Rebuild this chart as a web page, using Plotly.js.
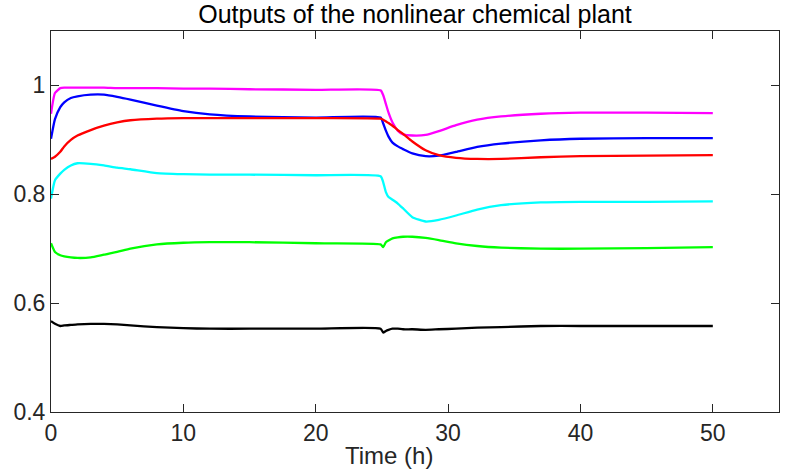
<!DOCTYPE html>
<html>
<head>
<meta charset="utf-8">
<script src="https://cdn.plot.ly/plotly-3.0.1.min.js"></script>
<style>html,body{margin:0;padding:0;background:#fff;}#chart{width:789px;height:469px;}</style>
</head>
<body>
<div id="chart"></div>
<script>
const time = [0, 0.3, 0.7, 1, 1.5, 2, 3, 4, 5, 6, 8, 10, 12, 15, 20, 24.9, 25.1, 25.3, 25.5, 25.8, 26.2, 26.6, 27.3, 28.3, 29.3, 30.6, 32.2, 34, 37, 40, 45, 50];
const outMagenta = [0.948, 0.986, 0.995, 0.996, 0.996, 0.996, 0.996, 0.996, 0.995, 0.995, 0.995, 0.994, 0.994, 0.993, 0.992, 0.991, 0.982, 0.966, 0.950, 0.932, 0.917, 0.910, 0.908, 0.909, 0.916, 0.927, 0.937, 0.943, 0.948, 0.950, 0.950, 0.949];
const outBlue = [0.902, 0.938, 0.960, 0.969, 0.977, 0.980, 0.983, 0.983, 0.979, 0.974, 0.963, 0.953, 0.947, 0.943, 0.941, 0.941, 0.930, 0.917, 0.906, 0.895, 0.888, 0.883, 0.875, 0.870, 0.871, 0.878, 0.887, 0.893, 0.899, 0.902, 0.903, 0.903];
const outRed = [0.865, 0.869, 0.878, 0.888, 0.900, 0.908, 0.918, 0.926, 0.932, 0.936, 0.939, 0.940, 0.940, 0.940, 0.940, 0.939, 0.937, 0.934, 0.931, 0.926, 0.918, 0.911, 0.897, 0.881, 0.872, 0.867, 0.865, 0.865, 0.868, 0.870, 0.871, 0.872];
const outCyan = [0.792, 0.826, 0.838, 0.845, 0.853, 0.857, 0.856, 0.853, 0.849, 0.846, 0.839, 0.837, 0.836, 0.836, 0.835, 0.833, 0.822, 0.804, 0.795, 0.790, 0.783, 0.774, 0.758, 0.750, 0.753, 0.761, 0.772, 0.780, 0.785, 0.786, 0.786, 0.787];
const outGreen = [0.710, 0.694, 0.688, 0.686, 0.684, 0.683, 0.684, 0.689, 0.694, 0.700, 0.708, 0.711, 0.712, 0.712, 0.710, 0.708, 0.703, 0.712, 0.715, 0.719, 0.721, 0.722, 0.722, 0.720, 0.716, 0.710, 0.705, 0.702, 0.700, 0.700, 0.701, 0.703];
const outBlack = [0.567, 0.562, 0.558, 0.559, 0.560, 0.561, 0.562, 0.562, 0.561, 0.559, 0.556, 0.554, 0.553, 0.553, 0.553, 0.553, 0.546, 0.549, 0.551, 0.553, 0.553, 0.552, 0.552, 0.551, 0.552, 0.553, 0.555, 0.556, 0.558, 0.558, 0.558, 0.558];

const seriesList = [
  {y: outMagenta, color: '#ff00ff'},
  {y: outBlue, color: '#0000ff'},
  {y: outRed, color: '#ff0000'},
  {y: outCyan, color: '#00ffff'},
  {y: outGreen, color: '#00ff00'},
  {y: outBlack, color: '#000000'}
];
const xTicks = [0, 10, 20, 30, 40, 50];
const yTickVals = [0.4, 0.6, 0.8, 1.0];
const yTickText = ['0.4', '0.6', '0.8', '1'];
const xLabel = 'Time (h)';
const chartTitle = 'Outputs of the nonlinear chemical plant';

const traces = seriesList.map(s => ({
  x: time, y: s.y, type: 'scatter', mode: 'lines',
  line: {color: s.color, width: 2.3, shape: 'spline', smoothing: 0.5},
  showlegend: false, hoverinfo: 'skip'
}));

const fontFam = 'Liberation Sans, Arial, sans-serif';
const axisCommon = {
  showline: true, linecolor: '#262626', linewidth: 1, mirror: 'ticks',
  ticks: 'inside', ticklen: 8, tickcolor: '#262626', tickwidth: 1,
  showgrid: false, zeroline: false,
  tickfont: {family: fontFam, size: 23, color: '#262626'}
};

const layout = {
  width: 789, height: 469,
  margin: {l: 51, r: 10, t: 31, b: 57},
  paper_bgcolor: '#ffffff', plot_bgcolor: '#ffffff',
  title: {text: chartTitle, x: 0.5, xref: 'paper', y: 0.97, yref: 'container', yanchor: 'middle',
          font: {family: fontFam, size: 25, color: '#000000'}},
  xaxis: Object.assign({}, axisCommon, {
    range: [0, 55], tickvals: xTicks, ticktext: xTicks.map(String)
  }),
  yaxis: Object.assign({}, axisCommon, {
    range: [0.4, 1.1], tickvals: yTickVals, ticktext: yTickText
  }),
  annotations: [{
    text: xLabel, xref: 'paper', yref: 'paper', x: 0.4643, y: -0.113,
    xanchor: 'center', yanchor: 'middle', showarrow: false,
    font: {family: fontFam, size: 24, color: '#262626'}
  }]
};

Plotly.newPlot('chart', traces, layout, {displayModeBar: false, staticPlot: true});
</script>
</body>
</html>
